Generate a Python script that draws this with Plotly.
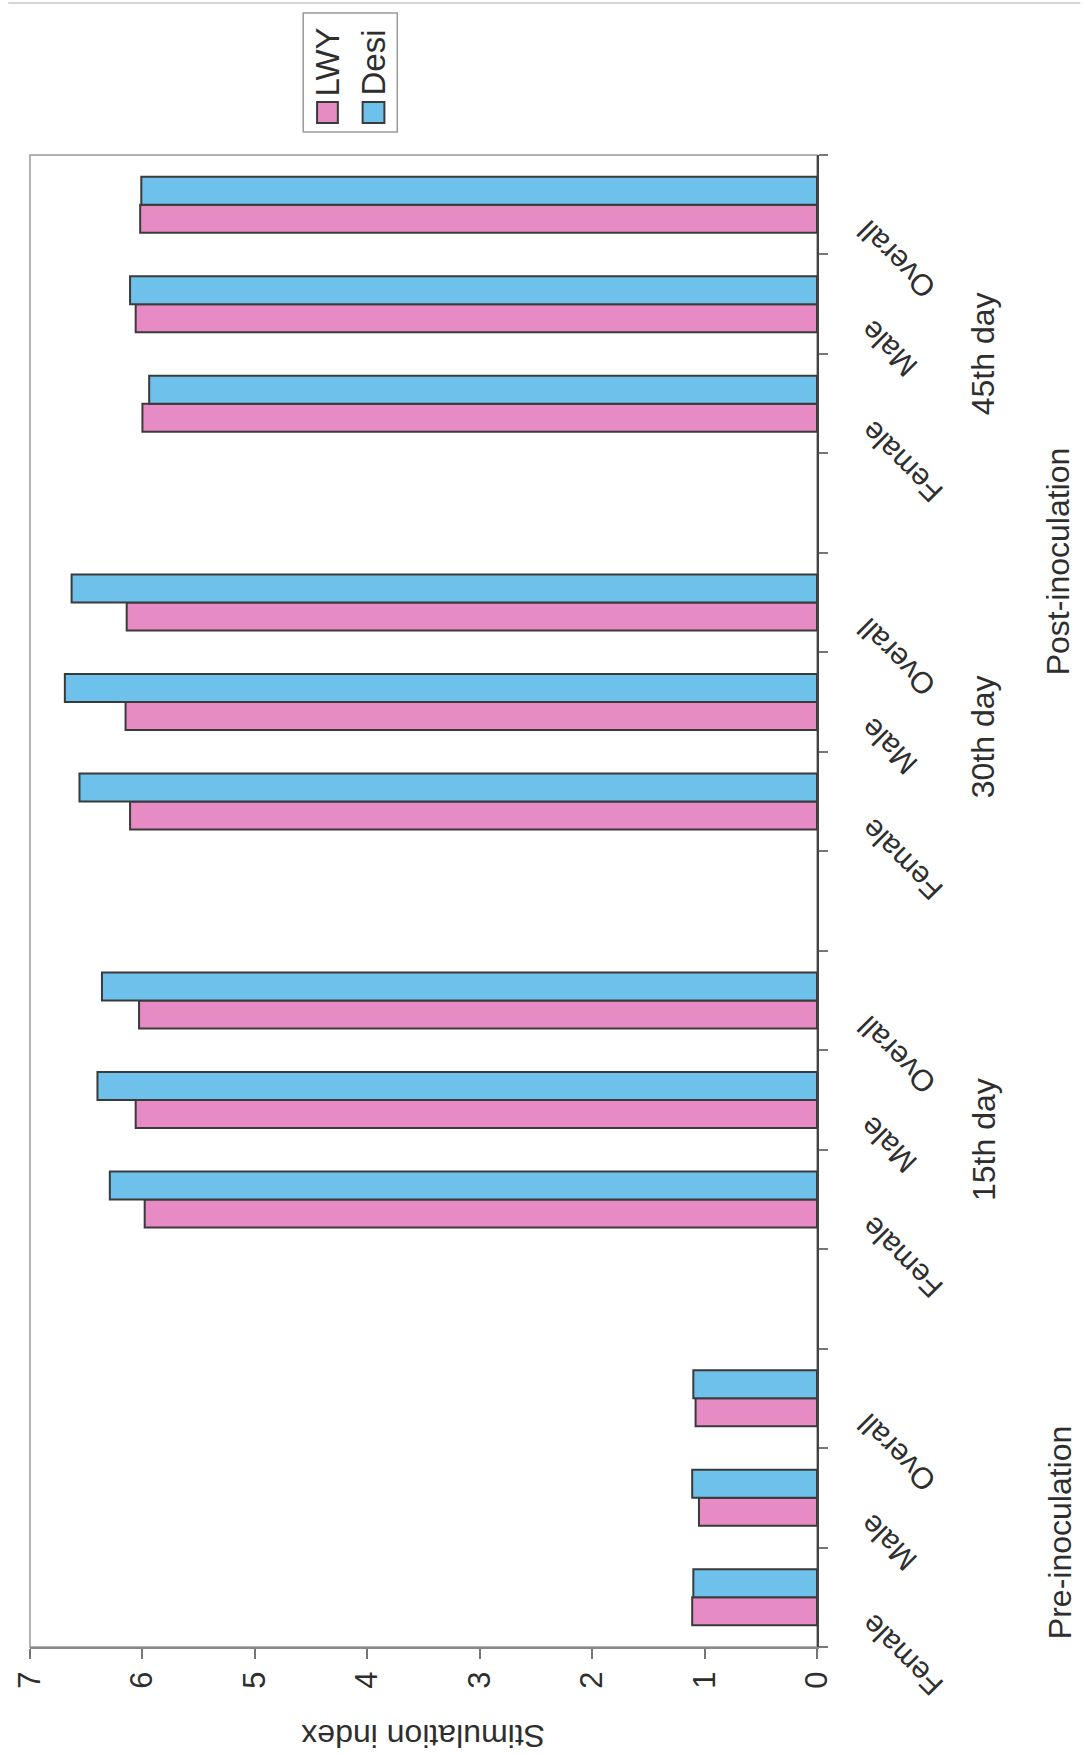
import plotly.graph_objects as go

# ---- data ----
groups = ["Pre-inoculation", "15th day", "30th day", "45th day"]
categories = ["Female", "Male", "Overall"]
series_names = ["LWY", "Desi"]
lwy = [1.11, 1.05, 1.08, 5.98, 6.06, 6.03, 6.11, 6.15, 6.14, 6.00, 6.06, 6.02]
desi = [1.10, 1.11, 1.10, 6.29, 6.40, 6.36, 6.56, 6.69, 6.63, 5.94, 6.11, 6.01]
value_ticks = [0, 1, 2, 3, 4, 5, 6, 7]
axis_title = "Stimulation index"
phase_labels = ["Pre-inoculation", "Post-inoculation"]

# ---- layout constants ----
W, H = 1083, 1754
ML, MR, MT, MB = 22, 266, 155, 107
PW, PH = W - ML - MR, H - MT - MB
FONT = "Liberation Sans, Arial, sans-serif"
TXT = "#2e2e2e"
PINK = "#E68BC4"
BLUE = "#6EC1EA"
EDGE = "#3a3a3a"

def px(xp):
    return (xp - ML) / PW

def py(yp):
    return (H - MB - yp) / PH

# slot positions: each group takes 4 slots (one blank before groups after the first)
slots = []
labels = []
for gi, g in enumerate(groups):
    for ci, c in enumerate(categories):
        slots.append(gi * 4 + ci)
        labels.append(c)

fig = go.Figure()
fig.add_trace(go.Bar(x=lwy, y=slots, orientation="h", name=series_names[0],
                     marker=dict(color=PINK, line=dict(color=EDGE, width=2))))
fig.add_trace(go.Bar(x=desi, y=slots, orientation="h", name=series_names[1],
                     marker=dict(color=BLUE, line=dict(color=EDGE, width=2))))

n_slots = len(groups) * 4 - 1
boundaries = [i - 0.5 for i in range(n_slots + 1)]

fig.update_layout(
    width=W, height=H,
    margin=dict(l=ML, r=MR, t=MT, b=MB, pad=0),
    paper_bgcolor="white", plot_bgcolor="white",
    barmode="group", bargap=0.437, bargroupgap=0,
    showlegend=False,
    font=dict(family=FONT, color=TXT),
    xaxis=dict(range=[7, 0], tickvals=value_ticks, ticktext=[str(v) for v in value_ticks],
               tickangle=-90, tickfont=dict(size=31, color=TXT, family=FONT),
               ticks="outside", ticklen=10, tickwidth=1.5, tickcolor="#777",
               showline=True, linecolor="#888", linewidth=2,
               showgrid=False, zeroline=False, fixedrange=True),
    yaxis=dict(range=[-0.5, n_slots - 0.5], side="right",
               tickvals=boundaries, showticklabels=False,
               ticks="outside", ticklen=9, tickwidth=1.5, tickcolor="#777",
               showline=True, linecolor="#444", linewidth=2,
               showgrid=False, zeroline=False, fixedrange=True),
)

shapes = []
# plot-area frame (light gray)
shapes.append(dict(type="rect", xref="paper", yref="paper", x0=0, x1=1, y0=0, y1=1,
                   line=dict(color="#9a9a9a", width=1.5), layer="below"))
# faint page line at top
shapes.append(dict(type="line", xref="paper", yref="paper", x0=px(0), x1=px(W),
                   y0=py(3), y1=py(3), line=dict(color="#c8c8c8", width=1.5)))
# legend box and swatches
shapes.append(dict(type="rect", xref="paper", yref="paper", x0=px(298), x1=px(393),
                   y0=py(132), y1=py(13), line=dict(color="#9a9a9a", width=1.5),
                   fillcolor="white"))
shapes.append(dict(type="rect", xref="paper", yref="paper", x0=px(312), x1=px(333),
                   y0=py(123), y1=py(102), line=dict(color=EDGE, width=2), fillcolor=PINK))
shapes.append(dict(type="rect", xref="paper", yref="paper", x0=px(358), x1=px(380),
                   y0=py(123), y1=py(102), line=dict(color=EDGE, width=2), fillcolor=BLUE))

ann = []
# category labels, rotated
cat_off = {"Female": (85, 58), "Male": (72, 45), "Overall": (80, 55)}
for s, lab in zip(slots, labels):
    dx, dy = cat_off[lab]
    ann.append(dict(text=lab, xref="paper", x=1, xshift=dx, yref="y", y=s, yshift=-dy,
                    xanchor="center", yanchor="middle", textangle=-135, showarrow=False,
                    font=dict(size=30, color=TXT, family=FONT)))
# day group labels
day_pos = {"15th day": 4.6, "30th day": 8.65, "45th day": 12.5}
for g in groups[1:]:
    ann.append(dict(text=g, xref="paper", x=px(985), yref="y", y=day_pos[g],
                    xanchor="center", yanchor="middle", textangle=-90, showarrow=False,
                    font=dict(size=32, color=TXT, family=FONT)))
# phase labels
ann.append(dict(text=phase_labels[0], xref="paper", x=px(1062), yref="y", y=0.65,
                xanchor="center", yanchor="middle", textangle=-90, showarrow=False,
                font=dict(size=32, color=TXT, family=FONT)))
ann.append(dict(text=phase_labels[1], xref="paper", x=px(1060), yref="y", y=10.41,
                xanchor="center", yanchor="middle", textangle=-90, showarrow=False,
                font=dict(size=32, color=TXT, family=FONT)))
# axis title, upside down
ann.append(dict(text=axis_title, xref="paper", x=0.5, yref="paper", y=py(1736),
                xanchor="center", yanchor="middle", textangle=180, showarrow=False,
                font=dict(size=32, color=TXT, family=FONT)))
# legend texts
ann.append(dict(text=series_names[0], xref="paper", x=px(323), yref="paper", y=py(98),
                xanchor="center", yanchor="bottom", textangle=-90, showarrow=False,
                font=dict(size=33, color=TXT, family=FONT)))
ann.append(dict(text=series_names[1], xref="paper", x=px(369), yref="paper", y=py(98),
                xanchor="center", yanchor="bottom", textangle=-90, showarrow=False,
                font=dict(size=33, color=TXT, family=FONT)))

fig.update_layout(shapes=shapes, annotations=ann)
fig.write_html("out.html")
